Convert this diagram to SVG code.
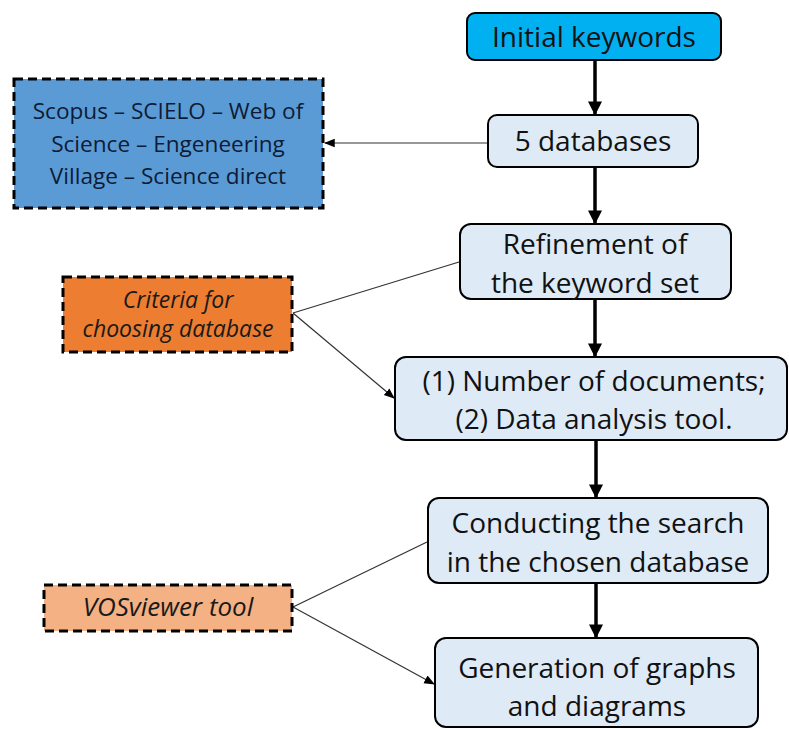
<svg xmlns="http://www.w3.org/2000/svg" width="789" height="729" viewBox="0 0 789 729">
<defs>
<marker id="ah" viewBox="0 0 10 10" refX="9" refY="5" markerWidth="4" markerHeight="4" orient="auto" markerUnits="strokeWidth"><path d="M0,0 L10,5 L0,10 z" fill="#000"/></marker>
<marker id="ahs" viewBox="0 0 10 10" refX="9" refY="5" markerWidth="9" markerHeight="9" orient="auto" markerUnits="strokeWidth"><path d="M0,1 L10,5 L0,9 z" fill="#000"/></marker>
<style>
.main{fill:#DEEAF6;stroke:#000;stroke-width:2}
.dash{stroke:#000;stroke-width:3;stroke-dasharray:9 5}
.t{font-family:"Open Sans",Lato,"Liberation Sans",sans-serif;font-size:28px;fill:#111;text-anchor:middle}
.s{font-family:"Open Sans",Lato,"Liberation Sans",sans-serif;font-size:22.6px;fill:#0d1b36;text-anchor:middle}
.i{font-family:"Open Sans",Lato,"Liberation Sans",sans-serif;font-size:23px;font-style:italic;fill:#1a1a1a;text-anchor:middle}
.iv{font-size:26px}
.thick{stroke:#000;stroke-width:3.5;fill:none}
.thin{stroke:#333;stroke-width:1.2;fill:none}
</style>
</defs>
<rect width="789" height="729" fill="#fff"/>
<g id="connectors">
<line class="thick" x1="595" y1="61" x2="595" y2="114" marker-end="url(#ah)"/>
<line class="thick" x1="595" y1="168" x2="595" y2="223" marker-end="url(#ah)"/>
<line class="thick" x1="595" y1="300" x2="595" y2="356" marker-end="url(#ah)"/>
<line class="thick" x1="596" y1="441" x2="596" y2="497" marker-end="url(#ah)"/>
<line class="thick" x1="596" y1="584" x2="596" y2="637" marker-end="url(#ah)"/>
<line class="thin" x1="487" y1="143" x2="325" y2="143" marker-end="url(#ahs)"/>
<line class="thin" x1="293" y1="313" x2="459" y2="262"/>
<line class="thin" x1="293" y1="313" x2="394" y2="398" marker-end="url(#ahs)"/>
<line class="thin" x1="293" y1="607" x2="427" y2="542"/>
<line class="thin" x1="293" y1="607" x2="434" y2="684" marker-end="url(#ahs)"/>
</g>
<g id="initial">
<rect x="467" y="13" width="254" height="47" rx="8" fill="#00B0F0" stroke="#000" stroke-width="2"/>
<text class="t" x="594" y="47">Initial keywords</text>
</g>
<g id="databases">
<rect class="main" x="488" y="115" width="210" height="52" rx="9"/>
<text class="t" x="593" y="151">5 databases</text>
</g>
<g id="dblist">
<rect class="dash" x="14" y="79" width="309" height="129" fill="#5B9BD5"/>
<text class="s" x="168" y="119">Scopus – SCIELO – Web of</text>
<text class="s" x="168" y="152">Science – Engeneering</text>
<text class="s" x="168" y="184">Village – Science direct</text>
</g>
<g id="refinement">
<rect class="main" x="460" y="224" width="271" height="75" rx="11"/>
<text class="t" x="595" y="254">Refinement of</text>
<text class="t" x="595" y="293">the keyword set</text>
</g>
<g id="criteria">
<rect class="dash" x="63" y="277" width="229" height="75" fill="#ED7D31"/>
<text class="i" x="178" y="308">Criteria for</text>
<text class="i" x="178" y="337">choosing database</text>
</g>
<g id="choice">
<rect class="main" x="395" y="357" width="392" height="83" rx="11"/>
<text class="t" x="594" y="391">(1) Number of documents;</text>
<text class="t" x="594" y="429">(2) Data analysis tool.</text>
</g>
<g id="search">
<rect class="main" x="428" y="498" width="340" height="85" rx="11"/>
<text class="t" x="598" y="533">Conducting the search</text>
<text class="t" x="598" y="572">in the chosen database</text>
</g>
<g id="vos">
<rect class="dash" x="44" y="585" width="248" height="46" fill="#F4B183"/>
<text class="i iv" x="168" y="616">VOSviewer tool</text>
</g>
<g id="generation">
<rect class="main" x="435" y="638" width="323" height="89" rx="11"/>
<text class="t" x="597" y="678">Generation of graphs</text>
<text class="t" x="597" y="716">and diagrams</text>
</g>
</svg>
